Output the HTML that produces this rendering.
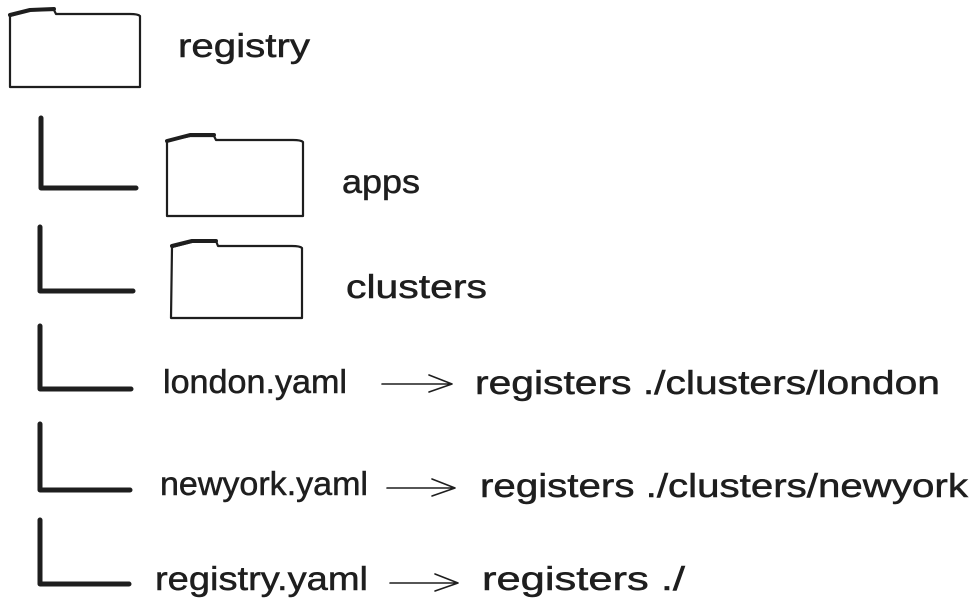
<!DOCTYPE html>
<html><head><meta charset="utf-8"><style>
html,body{margin:0;padding:0;background:#fff;}
svg{display:block}
text{font-family:"Liberation Sans",sans-serif;font-size:33px;fill:#1e1e1e;stroke:#1e1e1e;stroke-width:0.5;}
</style></head><body>
<svg width="980" height="613" viewBox="0 0 980 613" xmlns="http://www.w3.org/2000/svg">
<g fill="none" stroke="#1e1e1e" stroke-linecap="round" stroke-linejoin="round">
 <path d="M10 16 L10 87 L140 87 L140 16 Q138 14 130 14 L56 14 L54 10 L32 10 Z" stroke-width="2.2"/>
 <path d="M10 15 L30 10 L54 9" stroke-width="4"/>
 <path d="M167 141 L167 216 L303 216 L303 142 Q301 140 293 140 L216 140 L214 136 L190 136 Z" stroke-width="2.2"/>
 <path d="M167 141 L190 135 L214 135" stroke-width="4"/>
 <path d="M172 247 L171 318 L302 318 L302 248 Q300 246 292 246 L218 246 L216 241 L195 241 Z" stroke-width="2.2"/>
 <path d="M172 246 L192 241 L216 241" stroke-width="4"/>
 <g stroke-width="5">
  <path d="M41 118 L41 188 L136 188"/>
  <path d="M40 227 L40 291 L133 291"/>
  <path d="M40 326 L40 389 L131 389"/>
  <path d="M40 424 L40 490 L130 490"/>
  <path d="M40 520 L40 584 L129 584"/>
 </g>
 <g stroke-width="1.6">
  <path d="M382 384 L452 384 M429 375 L452 384 L429 392"/>
  <path d="M387 488 L455 488 M432 479 L455 488 L432 496"/>
  <path d="M390 583 L458 583 M435 574 L458 583 L435 591"/>
 </g>
</g>
<text x="178" y="57" textLength="132" lengthAdjust="spacingAndGlyphs">registry</text>
<text x="342" y="193" textLength="78" lengthAdjust="spacingAndGlyphs">apps</text>
<text x="346" y="298" textLength="141" lengthAdjust="spacingAndGlyphs">clusters</text>
<text x="163" y="393" textLength="184" lengthAdjust="spacingAndGlyphs">london.yaml</text>
<text x="160" y="495" textLength="208" lengthAdjust="spacingAndGlyphs">newyork.yaml</text>
<text x="155" y="590" textLength="213" lengthAdjust="spacingAndGlyphs">registry.yaml</text>
<text x="475" y="394" textLength="465" lengthAdjust="spacingAndGlyphs">registers ./clusters/london</text>
<text x="480" y="497" textLength="488" lengthAdjust="spacingAndGlyphs">registers ./clusters/newyork</text>
<text x="482" y="590" textLength="203" lengthAdjust="spacingAndGlyphs">registers ./</text>
</svg>
</body></html>
